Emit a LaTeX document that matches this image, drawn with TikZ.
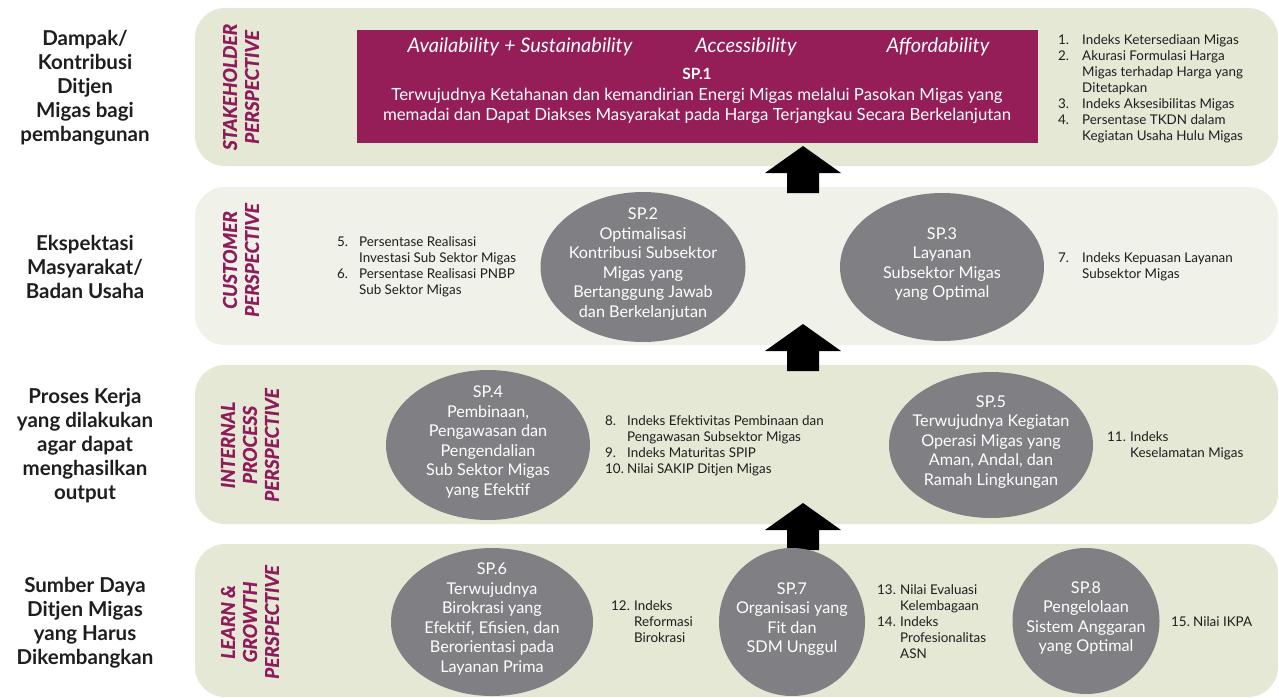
\documentclass[tikz,border=0pt]{standalone}
\usepackage{fontspec}
\setmainfont{Lato}
\usepackage{xcolor}
\usetikzlibrary{shapes.geometric, positioning}

\definecolor{bandA}{HTML}{E5E8D5}
\definecolor{bandB}{HTML}{F0F1E8}
\definecolor{migas}{HTML}{951E58}
\definecolor{perspcol}{HTML}{8F1B5A}
\definecolor{spgray}{HTML}{808084}
\definecolor{ink}{HTML}{1E1E1E}

\newcommand{\lst}[2][23pt]{\begin{tabular}[t]{@{}p{#1}@{}l@{}}#2\end{tabular}}

\begin{document}
\begin{tikzpicture}[x=1pt,y=-1pt,
  band/.style={rounded corners=30pt},
  lvl/.style={text=ink,align=center,font=\fontsize{20.5}{24}\selectfont\bfseries},
  persp/.style={rotate=90,text=perspcol,align=center,inner sep=0pt,font=\fontsize{19}{22}\selectfont\bfseries\itshape\addfontfeatures{FakeBold=1.2}},
  hdr/.style={text=white,font=\fontsize{20}{22}\selectfont\itshape},
  sp/.style={ellipse,fill=spgray,inner sep=0pt},
  sptxt/.style={text=white,align=center,inner sep=0pt,font=\fontsize{16.2}{19.5}\selectfont},
  ind/.style={anchor=base west,inner sep=0pt,text=ink,font=\fontsize{13.4}{16}\selectfont}]
\useasboundingbox (0,0) rectangle (1279,697);
\fill[white] (0,0) rectangle (1279,697);
% perspective bands
\fill[bandA,band] (195,8) rectangle (1278,166);
\fill[bandB,band] (195,187) rectangle (1278,345);
\fill[bandA,band] (195,365) rectangle (1278,524);
\fill[bandA,band] (195,544) rectangle (1278,697);

% arrows between the bands
\coordinate (a1) at (803,146);
\coordinate (a2) at (803,324);
\coordinate (a3) at (803,503);
\foreach \a in {a1,a2,a3}
  \fill (\a) -- ++(38,27) -- ++(-22,0) -- ++(0,20) -- ++(-32,0) -- ++(0,-20) -- ++(-22,0) -- cycle;

% left column
\node[lvl] (l1) at (85,88) {Dampak/\\Kontribusi\\Ditjen\\Migas bagi\\pembangunan};
\node[lvl] (l2) at (85,267) {Ekspektasi\\Masyarakat/\\Badan Usaha};
\node[lvl] (l3) at (85,446) {Proses Kerja\\yang dilakukan\\agar dapat\\menghasilkan\\output};
\node[lvl] (l4) at (85,623) {Sumber Daya\\Ditjen Migas\\yang Harus\\Dikembangkan};

\node[persp] (p1) at (241,87) {STAKEHOLDER\\PERSPECTIVE};
\node[persp] (p2) at (241,260) {CUSTOMER\\PERSPECTIVE};
\node[persp] (p3) at (250,445) {INTERNAL\\PROCESS\\PERSPECTIVE};
\node[persp] (p4) at (250,622) {LEARN \&\\GROWTH\\PERSPECTIVE};

% stakeholder
\node[fill=migas,anchor=north west,minimum width=681,minimum height=113,inner sep=0pt] (sp1) at (357,30) {};
\node[hdr] (av) at (520,47) {Availability + Sustainability};
\node[hdr] (ac) at (746,47) {Accessibility};
\node[hdr] (af) at (938,47) {Affordability};
\node[text=white,align=center,font=\fontsize{16.8}{20.5}\selectfont] (sp1t) at (697,96) {{\bfseries\fontsize{15.5}{20.5}\selectfont SP.1}\\Terwujudnya Ketahanan dan kemandirian Energi Migas melalui Pasokan Migas yang\\memadai dan Dapat Diakses Masyarakat pada Harga Terjangkau Secara Berkelanjutan};
\node[ind] (k1) at (1058,44) {\lst[24pt]{1. & Indeks Ketersediaan Migas\\ 2. & Akurasi Formulasi Harga\\ & Migas terhadap Harga yang\\ & Ditetapkan\\ 3. & Indeks Aksesibilitas Migas\\ 4. & Persentase TKDN dalam\\ & Kegiatan Usaha Hulu Migas}};

% customer
\node[sp,minimum width=205,minimum height=150] (sp2) at (643,267) {};
\node[sptxt,yshift=3pt] (sp2t) at (sp2) {SP.2\\Optimalisasi\\Kontribusi Subsektor\\Migas yang\\Bertanggung Jawab\\dan Berkelanjutan};
\node[sp,minimum width=204,minimum height=148] (sp3) at (942,267) {};
\node[sptxt,yshift=3pt] (sp3t) at (sp3) {SP.3\\Layanan\\Subsektor Migas\\yang Optimal};
\node[ind] (k2) at (337,246) {\lst[22pt]{5. & Persentase Realisasi\\ & Investasi Sub Sektor Migas\\ 6. & Persentase Realisasi PNBP\\ & Sub Sektor Migas}};
\node[ind] (k3) at (1058,262) {\lst[24pt]{7. & Indeks Kepuasan Layanan\\ & Subsektor Migas}};

% internal process
\node[sp,minimum width=204,minimum height=150] (sp4) at (488,445) {};
\node[sptxt,yshift=3pt] (sp4t) at (sp4) {SP.4\\Pembinaan,\\Pengawasan dan\\Pengendalian\\Sub Sektor Migas\\yang Efektif};
\node[sp,minimum width=204,minimum height=146] (sp5) at (991,445) {};
\node[sptxt,yshift=3pt] (sp5t) at (sp5) {SP.5\\Terwujudnya Kegiatan\\Operasi Migas yang\\Aman, Andal, dan\\Ramah Lingkungan};
\node[ind] (k4) at (605,425) {\lst[22pt]{8. & Indeks Efektivitas Pembinaan dan\\ & Pengawasan Subsektor Migas\\ 9. & Indeks Maturitas SPIP\\ 10. & Nilai SAKIP Ditjen Migas}};
\node[ind] (k5) at (1107,441) {\lst{11. & Indeks\\ & Keselamatan Migas}};

% learn and growth
\node[sp,minimum width=202,minimum height=148] (sp6) at (492,622) {};
\node[sptxt,yshift=3pt] (sp6t) at (sp6) {SP.6\\Terwujudnya\\Birokrasi yang\\Efektif, Efisien, dan\\Berorientasi pada\\Layanan Prima};
\node[sp,minimum width=146,minimum height=148] (sp7) at (792,622) {};
\node[sptxt,yshift=3pt] (sp7t) at (sp7) {SP.7\\Organisasi yang\\Fit dan\\SDM Unggul};
\node[sp,minimum width=147,minimum height=146] (sp8) at (1086,621) {};
\node[sptxt,yshift=3pt] (sp8t) at (sp8) {SP.8\\Pengelolaan\\Sistem Anggaran\\yang Optimal};
\node[ind] (k6) at (611,610) {\lst{12. & Indeks\\ & Reformasi\\ & Birokrasi}};
\node[ind] (k7) at (877,594) {\lst{13. & Nilai Evaluasi\\ & Kelembagaan\\ 14. & Indeks\\ & Profesionalitas\\ & ASN}};
\node[ind] (k8) at (1171,626) {\lst[22pt]{15. & Nilai IKPA}};
\end{tikzpicture}
\end{document}
